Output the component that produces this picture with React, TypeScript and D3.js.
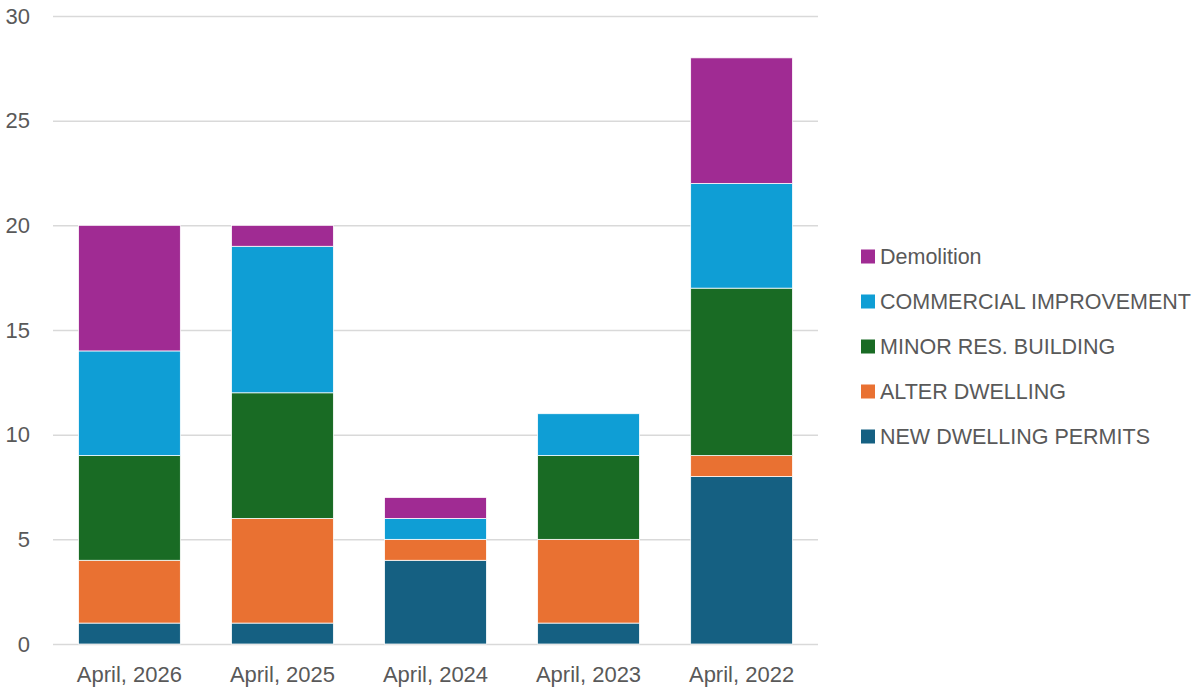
import React, { useEffect, useRef } from "react";
import * as d3 from "d3";

const categories = ["April, 2026", "April, 2025", "April, 2024", "April, 2023", "April, 2022"];
const seriesNames = ["NEW DWELLING PERMITS", "ALTER DWELLING", "MINOR RES. BUILDING", "COMMERCIAL IMPROVEMENT", "Demolition"];
const newDwelling = [1, 1, 4, 1, 8];
const alterDwelling = [3, 5, 1, 4, 1];
const minorRes = [5, 6, 0, 4, 8];
const commercial = [5, 7, 1, 2, 5];
const demolition = [6, 1, 1, 0, 6];
const yTicks = [0, 5, 10, 15, 20, 25, 30];
const colors = ["#156082", "#E97132", "#196B24", "#0F9ED5", "#A02B93"];

const App = () => {
  const svgRef = useRef<SVGSVGElement>(null);

  useEffect(() => {
    const width = 1201;
    const height = 691;
    const margin = { top: 16, bottom: 47, left: 53, right: 383 };
    const font = "'Liberation Sans', Arial, sans-serif";

    const svg = d3.select(svgRef.current);
    svg.selectAll("*").remove();

    const rows = categories.map((c, i) => ({
      cat: c,
      [seriesNames[0]]: newDwelling[i],
      [seriesNames[1]]: alterDwelling[i],
      [seriesNames[2]]: minorRes[i],
      [seriesNames[3]]: commercial[i],
      [seriesNames[4]]: demolition[i],
    }));
    const stacked = d3.stack<any>().keys(seriesNames)(rows);

    const x = d3.scaleBand()
      .domain(categories)
      .range([margin.left, width - margin.right])
      .paddingInner(0.335)
      .paddingOuter(0.167);

    const y = d3.scaleLinear()
      .domain([0, 30])
      .range([height - margin.bottom, margin.top]);

    // gridlines
    svg.append("g")
      .selectAll("line")
      .data(yTicks)
      .enter()
      .append("line")
      .attr("x1", margin.left)
      .attr("x2", width - margin.right)
      .attr("y1", d => y(d) + 0.5)
      .attr("y2", d => y(d) + 0.5)
      .attr("stroke", "#d9d9d9")
      .attr("stroke-width", 1.5);

    // y labels
    svg.append("g")
      .selectAll("text")
      .data(yTicks)
      .enter()
      .append("text")
      .attr("x", 30)
      .attr("y", d => y(d))
      .attr("dy", "0.35em")
      .attr("text-anchor", "end")
      .attr("font-family", font)
      .attr("font-size", 22)
      .attr("fill", "#595959")
      .text(d => d);

    // bars
    svg.append("g")
      .selectAll("g")
      .data(stacked)
      .enter()
      .append("g")
      .attr("fill", (d, i) => colors[i])
      .selectAll("rect")
      .data(d => d)
      .enter()
      .append("rect")
      .attr("x", d => x(d.data.cat)!)
      .attr("y", d => y(d[1]))
      .attr("height", d => y(d[0]) - y(d[1]))
      .attr("width", x.bandwidth())
      .attr("stroke", "#ffffff")
      .attr("stroke-width", d => (d[1] - d[0] > 0 ? 0.75 : 0));

    // x labels
    svg.append("g")
      .selectAll("text")
      .data(categories)
      .enter()
      .append("text")
      .attr("x", d => x(d)! + x.bandwidth() / 2)
      .attr("y", height - 9)
      .attr("text-anchor", "middle")
      .attr("font-family", font)
      .attr("font-size", 22)
      .attr("fill", "#595959")
      .text(d => d);

    // legend (reverse order)
    const legendNames = seriesNames.slice().reverse();
    const legend = svg.append("g")
      .selectAll("g")
      .data(legendNames)
      .enter()
      .append("g")
      .attr("transform", (d, i) => `translate(861, ${256 + i * 45})`);
    legend.append("rect")
      .attr("x", 0)
      .attr("y", -6.5)
      .attr("width", 14)
      .attr("height", 14)
      .attr("fill", d => colors[seriesNames.indexOf(d)]);
    legend.append("text")
      .attr("x", 19)
      .attr("y", 0)
      .attr("dy", "0.35em")
      .attr("font-family", font)
      .attr("font-size", 21.5)
      .attr("fill", "#595959")
      .text(d => d);
  }, []);

  return (
    <svg ref={svgRef} width={1201} height={691} style={{ position: "absolute", left: 0, top: 0 }}></svg>
  );
};

export default App;
